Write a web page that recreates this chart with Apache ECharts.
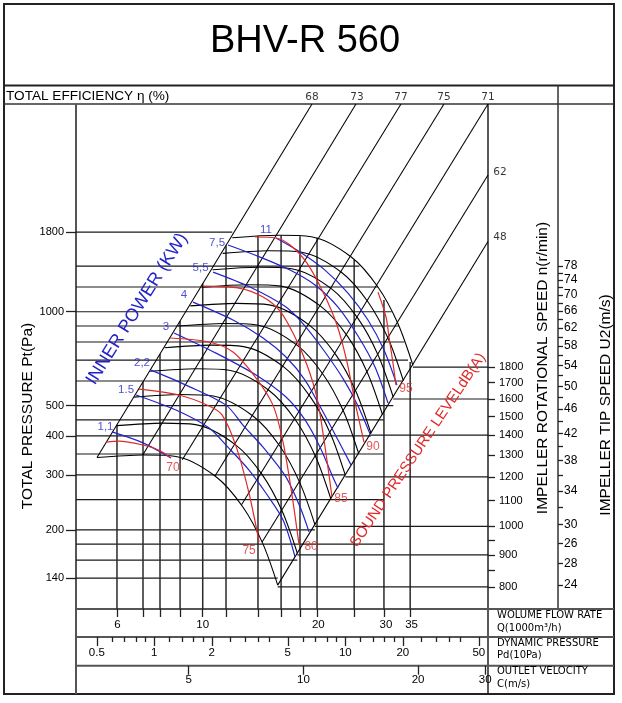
<!DOCTYPE html>
<html><head><meta charset="utf-8">
<script src="https://cdn.jsdelivr.net/npm/echarts@6/dist/echarts.min.js"></script>
<style>html,body{margin:0;padding:0;background:#fff}#c{width:622px;height:703px}</style>
</head><body><div id="c"></div>
<script>
// ---------------- data ----------------
const X_MIN = 4.677, X_MAX = 55.34;      // flow rate Q (1000 m3/h), log
const Y_MIN = 111.5, Y_MAX = 4633;       // total pressure Pt (Pa), log
const N_MIN = 737.2, N_MAX = 4751;       // rotational speed n (r/min), log
const U_MIN = 21.98, U_MAX = 141.7;      // tip speed U2 (m/s), log
const PD_MIN = 0.3892, PD_MAX = 55.86;   // dynamic pressure (10Pa), log
const C_MIN = 2.53, C_MAX = 30.52;       // outlet velocity (m/s), log

const flowTicks = [5.98,6.99,7.74,8.73,10,11.5,13.93,16,17.92,19.85,24.8,29.65,34.7];
const flowLabels = [6,10,20,30,35];
const verticalTops = [434.6,595.7,732.5,933.7,1234,1630,1750,1755,1745,1725,1465,1090,690];

const pressureLabels = [140,200,300,400,500,1000,1800];
const pressureGrid = [140,160,180,200,250,300,350,400,450,500,600,700,800,900,1000,1200,1400,1800];
const pressureGridEnds = [15.68,17.64,29.65,19.6,29.65,23.52,29.65,27.44,29.65,31.36,33.04,34.24,33.52,32.45,31.07,28.61,25.59,11.94];

const speedTicks = [800,850,900,950,1000,1100,1200,1300,1400,1500,1600,1700,1800];
const speedLabels = [800,900,1000,1100,1200,1300,1400,1500,1600,1700,1800];
const speedLines = [800,900,1000,1200,1400,1600,1800];
const speedLineStarts = [15.68,17.64,19.6,23.52,27.44,31.36,35.28];

const tipTicks = [24,26,28,30,32,34,36,38,40,42,44,46,48,50,52,54,56,58,60,62,64,66,68,70,72,74,76,78];
const tipLabelValues = [24,26,28,30,34,38,42,46,50,54,58,62,66,70,74,78];
const tipLabelTexts = ['24','28','26','30','34','38','42','46','50','54','58','62','66','70','74','78'];

const pdMajor = [0.5,1,2,5,10,20,50];
const pdMinor = [0.6,0.7,0.8,0.9,1.2,1.4,1.6,1.8,2.5,3,3.5,4,6,7,8,9,12,14,16,18,25,30,35,40];
const velTicks = [5,10,20,30];

const effLabels = ['68','73','77','75','71','62','48'];
const effLines = [
  [[5.305,340.9],[19.26,4633]],
  [[6.978,347.3],[25.07,4633]],
  [[8.849,335.7],[32.84,4633]],
  [[10.765,297.4],[42.50,4633]],
  [[12.62,240.8],[55.34,4633]],
  [[14.28,182.7],[55.34,2742]],
  [[15.68,133.0],[55.34,1679]]
];

const fanSpeeds = [800,900,1000,1100,1200,1300,1400,1500,1600,1700,1800];
const fanCurves = [
  [[5.305,340.9],[6.99,347.3],[8.52,343.5],[10.83,295.9],[12.71,237.1],[14.33,181.0],[15.68,133.0]],
  [[5.968,431.4],[7.864,439.6],[9.585,434.7],[12.18,374.5],[14.30,300.1],[16.12,229.1],[17.64,168.3]],
  [[6.631,532.7],[8.738,542.7],[10.65,536.7],[13.54,462.3],[15.89,370.5],[17.91,282.8],[19.60,207.8]],
  [[7.294,644.5],[9.611,656.6],[11.72,649.4],[14.89,559.4],[17.48,448.3],[19.70,342.2],[21.56,251.5]],
  [[7.958,767.0],[10.49,781.4],[12.78,772.9],[16.25,665.8],[19.07,533.5],[21.50,407.3],[23.52,299.3]],
  [[8.621,900.2],[11.36,917.1],[13.85,907.1],[17.60,781.4],[20.66,626.1],[23.29,478.0],[25.48,351.2]],
  [[9.284,1044],[12.23,1064],[14.91,1052],[18.95,906.2],[22.25,726.1],[25.08,554.3],[27.44,407.3]],
  [[9.947,1199],[13.11,1221],[15.98,1208],[20.31,1040],[23.84,833.6],[26.87,636.3],[29.40,467.6]],
  [[10.61,1364],[13.98,1389],[17.04,1374],[21.66,1184],[25.42,948.4],[28.66,724.0],[31.36,532.0]],
  [[11.27,1539],[14.85,1568],[18.11,1551],[23.01,1336],[27.01,1071],[30.45,817.3],[33.32,600.6]],
  [[11.94,1726],[15.73,1758],[19.17,1739],[24.37,1498],[28.60,1200],[32.24,916.3],[35.28,673.3]]
];

const powerLabels = ['1,1','1.5','2,2','3','4','5,5','7,5','11'];
const powerCurves = [
  [[5.805,412],[6.99,380],[8.269,340]],
  [[6.704,541],[8.52,484],[10.39,424],[11.63,368],[13.20,311],[14.62,262],[16.19,215],[17.39,164]],
  [[7.334,650],[9.048,582],[11.50,502],[12.73,433],[14.36,368],[16.48,295],[17.92,237],[18.92,197]],
  [[8.419,855],[10.83,737],[13.77,627],[16.48,533],[18.47,450],[20.21,368],[21.84,295],[22.51,272]],
  [[9.435,1074],[11.99,941],[14.36,824],[16.48,716],[18.47,604],[20.45,484],[22.51,388],[24.33,323]],
  [[10.64,1340],[13.28,1200],[16.48,1035],[18.47,900],[20.82,743],[23.33,604],[25.38,499],[27.27,406]],
  [[11.64,1636],[14.10,1497],[16.88,1360],[19.61,1218],[22.51,1035],[25.38,836],[28.10,665],[30.38,510]],
  [[15.52,1723],[17.92,1554],[20.82,1360],[23.90,1148],[26.94,941],[29.66,754],[32.06,582]]
];

const noiseLabels = ['70','75','80','85','90','95'];
const noiseCurves = [
  [[5.60,382],[6.054,385],[6.99,374],[7.695,360],[8.269,340]],
  [[6.825,565],[8.675,541],[10.39,499],[11.23,467],[12.21,371],[13.20,262],[14.02,183]],
  [[8.22,824],[10.39,800],[11.99,743],[13.77,613],[15.24,502],[16.19,382],[17.08,259],[17.82,179]],
  [[10.02,1209],[12.43,1191],[14.36,1115],[15.90,1005],[17.29,842],[18.69,675],[19.85,529],[20.70,388],[21.71,255]],
  [[13.68,1736],[15.52,1723],[16.88,1636],[18.69,1432],[20.57,1156],[22.37,907],[23.76,690],[24.92,514],[26.31,382]],
  [[28.61,1156],[30.02,962],[30.56,830],[31.30,685],[31.87,582]]
];

// ---------------- styles ----------------
const FONT = 'Liberation Sans';
const BLUE = '#2323c8', RED = '#e02a2a';
const powerLabelOffsets = [[-6.5,-5],[-10,-5],[-9,-7],[-8,-6],[-9,-7],[-12.5,-4],[-11,-2],[-10,-8]];
const noiseLabelOffsets = [[2,10],[-10,9],[12,2],[9,2],[9,5],[10,4]];
const effLabelOffsets = [[0,-7],[1,-7],[0,-7],[0,-7],[0,-7],[12,-3],[12,-4]];

// ---------------- build ----------------
const series = [];
function addLine(data, color, width, extra) {
  series.push(Object.assign({
    type: 'line', data: data, xAxisIndex: 0, yAxisIndex: 0,
    symbol: 'none', showSymbol: false, silent: true, animation: false,
    lineStyle: { color: color, width: width }, z: 2
  }, extra || {}));
}
function addLabels(points, texts, offsets, color, family, size, yIdx) {
  series.push({
    type: 'scatter', xAxisIndex: 0, yAxisIndex: yIdx || 0, symbolSize: 1,
    itemStyle: { color: 'rgba(0,0,0,0)' }, silent: true, animation: false, clip: false, z: 6,
    data: points.map((p, i) => ({
      value: p,
      label: { show: true, position: 'inside', offset: offsets[i], formatter: texts[i],
               color: color, fontSize: size, fontFamily: family }
    }))
  });
}

pressureGrid.forEach((p, i) => addLine([[X_MIN, p], [pressureGridEnds[i], p]], '#1a1a1a', 1.15));
flowTicks.forEach((q, i) => addLine([[q, Y_MIN], [q, verticalTops[i]]], '#2a2a2a', 1.5));
speedLines.forEach((n, i) => addLine([[speedLineStarts[i], n], [X_MAX, n]], '#1a1a1a', 1.15, { yAxisIndex: 1 }));
effLines.forEach(l => addLine(l, '#000', 1.05));
fanCurves.forEach(c => addLine(c, '#000', 1.1, { smooth: 0.3 }));
powerCurves.forEach(c => addLine(c, BLUE, 1.2, { smooth: 0.3, z: 3 }));
noiseCurves.forEach(c => addLine(c, RED, 1.2, { smooth: 0.3, z: 4 }));

addLabels(powerCurves.map(c => c[0]), powerLabels, powerLabelOffsets, BLUE, FONT, 11.5);
addLabels(noiseCurves.map(c => c[c.length - 1]), noiseLabels, noiseLabelOffsets, RED, FONT, 12);
addLabels(effLines.map(l => l[1]), effLabels, effLabelOffsets, '#000', 'DejaVu Sans', 10.5);

const numFmt = v => String(Math.round(v * 1000) / 1000);
const tipFmt = v => {
  let best = 0, d = Infinity;
  tipLabelValues.forEach((t, i) => { const e = Math.abs(t - v); if (e < d) { d = e; best = i; } });
  return tipLabelTexts[best];
};

function hline(x1, x2, y, w, c) { return { type: 'line', shape: { x1: x1, y1: y, x2: x2, y2: y }, style: { stroke: c || '#333', lineWidth: w } }; }
function vline(x, y1, y2, w, c) { return { type: 'line', shape: { x1: x, y1: y1, x2: x, y2: y2 }, style: { stroke: c || '#333', lineWidth: w } }; }
function txt(x, y, text, size, opts) {
  opts = opts || {};
  const align = opts.align || 'center';
  return {
    type: 'text', x: x, y: y, rotation: opts.rot || 0, z: 10,
    style: {
      text: text, fill: opts.color || '#000',
      font: 'normal ' + size + 'px "' + (opts.family || FONT) + '"',
      textAlign: align, textVerticalAlign: 'middle', align: align, verticalAlign: 'middle'
    }
  };
}

const graphics = [
  { type: 'rect', shape: { x: 4, y: 4, width: 610, height: 690 }, style: { fill: 'none', stroke: '#222', lineWidth: 2 } },
  hline(4, 614, 85.5, 2, '#222'),
  hline(4, 614, 104, 1.5, '#333'),
  vline(76, 104, 694, 2, '#555'),
  vline(488, 104, 694, 1.5, '#222'),
  vline(558, 85.5, 609, 1.5, '#333'),
  hline(76, 614, 609, 2, '#555'),
  hline(76, 614, 637, 2, '#555'),
  hline(76, 614, 665.7, 2, '#555'),
  txt(305, 42, 'BHV-R 560', 38),
  txt(6, 96, 'TOTAL EFFICIENCY η (%)', 13.6, { align: 'left' }),
  txt(28, 416, 'TOTAL PRESSURE Pt(Pa)', 15.5, { rot: Math.PI / 2 }),
  txt(543, 368, 'IMPELLER ROTATIONAL SPEED n(r/min)', 15.5, { rot: Math.PI / 2 }),
  txt(605.5, 405, 'IMPELLER TIP SPEED U2(m/s)', 15.5, { rot: Math.PI / 2 }),
  txt(137, 309, 'INNER POWER (KW)', 18, { rot: 58 * Math.PI / 180, color: BLUE }),
  txt(418, 450, 'SOUND PRESSURE LEVELdB(A)', 15, { rot: 56 * Math.PI / 180, color: RED }),
  txt(497, 615, 'WOLUME FLOW RATE', 10, { align: 'left', family: 'DejaVu Sans' }),
  txt(497, 628, 'Q(1000m³/h)', 10, { align: 'left', family: 'DejaVu Sans' }),
  txt(497, 643, 'DYNAMIC PRESSURE', 10, { align: 'left', family: 'DejaVu Sans' }),
  txt(497, 655, 'Pd(10Pa)', 10, { align: 'left', family: 'DejaVu Sans' }),
  txt(497, 671.5, 'OUTLET VELOCITY', 10, { align: 'left', family: 'DejaVu Sans' }),
  txt(497, 684, 'C(m/s)', 10, { align: 'left', family: 'DejaVu Sans' })
];

const tickStyle = { color: '#222', width: 1.3 };
const labelBase = { color: '#000', fontFamily: FONT, fontSize: 11.5 };
const hiddenY = gi => ({ gridIndex: gi, type: 'value', show: false, min: 0, max: 1 });

const option = {
  backgroundColor: '#fff',
  animation: false,
  textStyle: { fontFamily: FONT },
  grid: [
    { left: 76, top: 104, width: 412, height: 505, containLabel: false },
    { left: 76, top: 636.5, width: 412, height: 0.5, containLabel: false },
    { left: 76, top: 636.5, width: 412, height: 0.5, containLabel: false },
    { left: 76, top: 665.2, width: 412, height: 0.5, containLabel: false }
  ],
  xAxis: [
    { gridIndex: 0, type: 'log', logBase: 10, min: X_MIN, max: X_MAX, position: 'bottom',
      axisLine: { show: false }, splitLine: { show: false },
      axisTick: { show: true, customValues: flowTicks, length: 8, lineStyle: tickStyle },
      axisLabel: Object.assign({ customValues: flowLabels, margin: 10, formatter: numFmt }, labelBase) },
    { gridIndex: 1, type: 'log', logBase: 10, min: PD_MIN, max: PD_MAX, position: 'bottom',
      axisLine: { show: false }, splitLine: { show: false },
      axisTick: { show: true, customValues: pdMajor, length: 9, lineStyle: tickStyle },
      axisLabel: Object.assign({ customValues: pdMajor, margin: 10, formatter: numFmt }, labelBase) },
    { gridIndex: 2, type: 'log', logBase: 10, min: PD_MIN, max: PD_MAX, position: 'bottom',
      axisLine: { show: false }, splitLine: { show: false },
      axisTick: { show: true, customValues: pdMinor, length: 5, lineStyle: tickStyle },
      axisLabel: { show: false } },
    { gridIndex: 3, type: 'log', logBase: 10, min: C_MIN, max: C_MAX, position: 'bottom',
      axisLine: { show: false }, splitLine: { show: false },
      axisTick: { show: true, customValues: velTicks, length: 9, lineStyle: tickStyle },
      axisLabel: Object.assign({ customValues: velTicks, margin: 8, formatter: numFmt }, labelBase) }
  ],
  yAxis: [
    { gridIndex: 0, type: 'log', logBase: 10, min: Y_MIN, max: Y_MAX, position: 'left',
      axisLine: { show: false }, splitLine: { show: false },
      axisTick: { show: true, customValues: pressureLabels, length: 10, lineStyle: tickStyle },
      axisLabel: Object.assign({ customValues: pressureLabels, margin: 12, formatter: numFmt }, labelBase, { fontSize: 11 }) },
    { gridIndex: 0, type: 'log', logBase: 10, min: N_MIN, max: N_MAX, position: 'right',
      axisLine: { show: false }, splitLine: { show: false },
      axisTick: { show: true, customValues: speedTicks, length: 7, lineStyle: tickStyle },
      axisLabel: Object.assign({ customValues: speedLabels, margin: 11, formatter: numFmt }, labelBase, { fontSize: 11 }) },
    { gridIndex: 0, type: 'log', logBase: 10, min: U_MIN, max: U_MAX, position: 'right', offset: 70,
      axisLine: { show: false }, splitLine: { show: false },
      axisTick: { show: true, customValues: tipTicks, length: 5, lineStyle: tickStyle },
      axisLabel: Object.assign({ customValues: tipLabelValues, margin: 6, formatter: tipFmt }, labelBase, { fontSize: 12 }) },
    hiddenY(1), hiddenY(2), hiddenY(3)
  ],
  graphic: { elements: graphics },
  series: series
};

const chart = echarts.init(document.getElementById('c'), null, { renderer: 'canvas', width: 622, height: 703 });
chart.setOption(option);
</script>
</body></html>
